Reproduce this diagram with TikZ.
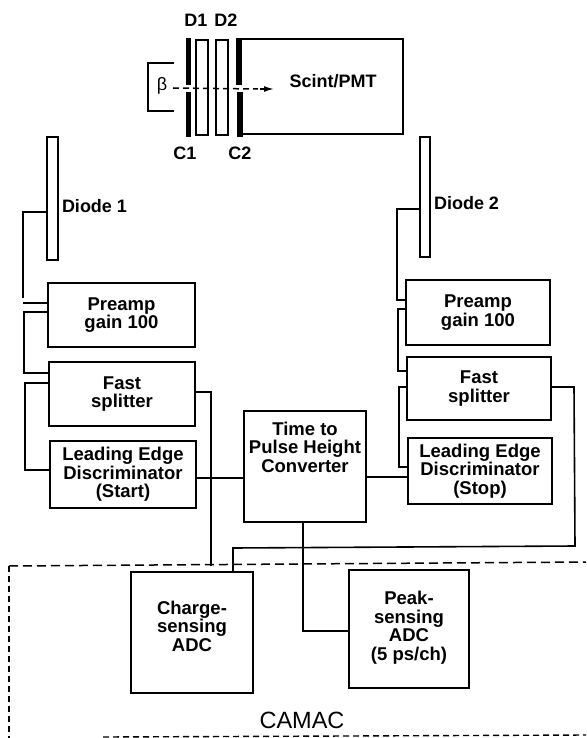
\documentclass[tikz,border=0pt]{standalone}
\usepackage{fontspec}
\setmainfont{Liberation Sans}
\usetikzlibrary{arrows.meta}
\tikzset{
  x=1pt,y=-1pt,
  blk/.style={draw=black,line width=1.9pt,inner sep=0pt,outer sep=0pt,align=center,font=\fontsize{18.5}{18.5}\selectfont\bfseries},
  lbl/.style={inner sep=0pt,outer sep=0pt,font=\fontsize{18}{18}\selectfont\bfseries},
  wire/.style={line width=1.6pt,line join=miter},
  thinbar/.style={draw=black,line width=1.6pt,inner sep=0pt,outer sep=0pt},
  thickbar/.style={fill=black,inner sep=0pt,outer sep=0pt},
  camac/.style={line width=1.5pt,dash pattern=on 9pt off 5pt},
  camacfine/.style={line width=1.4pt,dash pattern=on 6pt off 4pt}
}
\newcommand{\bx}[6]{\node[blk,minimum width=#4 pt-#3 pt,minimum height=#6 pt-#5 pt] (#1) at ({(#3+#4)/2},{(#5+#6)/2}) {#2};}
\begin{document}
\begin{tikzpicture}
\useasboundingbox (0,0) rectangle (586,738);
% detector stack
\node[thickbar,minimum width=5pt,minimum height=47pt] (c1a) at (188,61.5) {};
\node[thickbar,minimum width=5pt,minimum height=45pt] (c1b) at (188.5,114.5) {};
\node[thinbar,minimum width=12pt,minimum height=95pt] (d1) at (202,87.5) {};
\node[thinbar,minimum width=12pt,minimum height=95pt] (d2) at (222,87.5) {};
\node[thickbar,minimum width=6pt,minimum height=47pt] (c2a) at (239,61.5) {};
\node[thickbar,minimum width=6pt,minimum height=45pt] (c2b) at (239.5,114.5) {};
\coordinate (pmtne) at (403,39);
\coordinate (pmtse) at (403,134);
\draw[wire] (c2a.north east |- 0,39) -- (pmtne) -- (pmtse) -- (c2b.east |- 0,134);
\node[lbl] (scint) at (333,81) {Scint/PMT};
\node[lbl] (ld1) at (196,20) {D1};
\node[lbl] (ld2) at (226,20) {D2};
\node[lbl] (lc1) at (185,153) {C1};
\node[lbl] (lc2) at (240,153) {C2};
\node[inner sep=0pt,outer sep=0pt,font=\fontsize{18}{18}\selectfont] (beta) at (162,86) {β};
\coordinate (bt) at (174,63);
\coordinate (bb) at (174,111);
\draw[wire] (bt) -- (148,63) -- (148,111) -- (bb);
\coordinate (arrowstart) at (173,88);
\coordinate (arrowend) at (274,89);
\draw[line width=1.5pt,dash pattern=on 6pt off 4pt] (arrowstart) -- (258,89);
\draw[line width=1.5pt,-{Latex[length=10pt,width=6pt]}] (260,89) -- (arrowend);
% left chain
\node[thinbar,minimum width=11pt,minimum height=123pt] (diode1) at (52.5,198.5) {};
\node[lbl,anchor=west] (ldiode1) at (62,206) {Diode 1};
\bx{pre1}{Preamp\\gain 100}{48}{195}{283}{347}
\bx{fast1}{Fast\\splitter}{49}{195}{362}{426}
\bx{led1}{Leading Edge\\Discriminator\\(Start)}{50}{196}{441}{508}
\draw[wire] (diode1.west |- 0,212) -- (23,212) -- (23,298);
\coordinate (stub1) at (23,303);
\draw[wire] (pre1.west |- 0,303) -- (stub1);
\draw[wire] (pre1.west |- 0,312) -- (24,312) -- (24,373) -- (fast1.west |- 0,373);
\draw[wire] (fast1.west |- 0,383) -- (25,383) -- (25,470) -- (led1.west |- 0,470);
% right chain
\node[thinbar,minimum width=10pt,minimum height=120pt] (diode2) at (425,197) {};
\node[lbl,anchor=west] (ldiode2) at (434,203) {Diode 2};
\bx{pre2}{Preamp\\gain 100}{406}{550}{280}{345}
\bx{fast2}{Fast\\splitter}{407}{551}{357}{420}
\bx{led2}{Leading Edge\\Discriminator\\(Stop)}{408}{552}{438}{504}
\draw[wire] (diode2.west |- 0,209) -- (397,209) -- (397,300) -- (pre2.west |- 0,300);
\draw[wire] (pre2.west |- 0,309) -- (398,309) -- (398,371) -- (fast2.west |- 0,371);
\draw[wire] (fast2.west |- 0,387) -- (399,387) -- (399,467) -- (led2.west |- 0,467);
% centre
\bx{tph}{Time to\\Pulse Height\\Converter\\[20pt]\mbox{}}{244}{366}{411}{522}
% camac
\bx{charge}{Charge-\\sensing\\ADC\\[-5.5pt]\mbox{}}{131}{253}{572}{693}
\bx{peak}{Peak-\\sensing\\ADC\\(5 ps/ch)\\[-12.5pt]\mbox{}}{349}{469}{570}{688}
\coordinate (camtl) at (9,566);
\coordinate (camtr) at (586,562);
\coordinate (cambl) at (9,738);
\coordinate (cambs) at (103,737);
\coordinate (cambr) at (586,735);
\draw[camac] (camtl) -- (camtr);
\draw[camacfine] (camtl) -- (cambl);
\draw[camacfine] (cambs) -- (cambr);
\node[inner sep=0pt,font=\fontsize{23.5}{24}\selectfont] (camaclbl) at (302,720) {CAMAC};
% signals
\draw[wire] (led1.east |- 0,478) -- (tph.west |- 0,478);
\draw[wire] (tph.east |- 0,477) -- (led2.west |- 0,477);
\draw[wire] (fast1.east |- 0,392) -- (211,392) -- (211,566);
\draw[wire] (fast2.east |- 0,387) -- (574,387) -- (575,546) -- (233,548) -- (charge.north -| 233,0);
\draw[wire] (tph.south -| 303,0) -- (303,631) -- (peak.west |- 0,631);
\end{tikzpicture}
\end{document}
